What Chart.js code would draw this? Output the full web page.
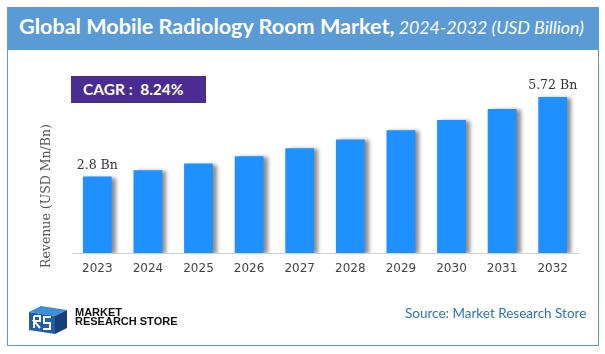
<!DOCTYPE html>
<html>
<head>
<meta charset="utf-8">
<script src="https://cdn.jsdelivr.net/npm/chart.js@4.4.1/dist/chart.umd.min.js"></script>
<style>
  html, body { margin: 0; padding: 0; background: #fff; }
  #wrap { position: relative; width: 605px; height: 354px; overflow: hidden; background: #fff; }
  #frame { position: absolute; left: 7px; top: 7px; width: 590px; height: 337px; border: 1.5px solid #5B9BD5; box-sizing: content-box; }
  #header { position: absolute; left: 7px; top: 7px; width: 592px; height: 43px; background: #5B9BD5; }
  #title { position: absolute; left: 19px; top: 13px; white-space: nowrap; color: #fff; font-family: Lato, "Open Sans", sans-serif; }
  #title .b { font-weight: bold; font-size: 21.6px; }
  #title .i { font-style: italic; font-size: 17.8px; }
  #cagr { position: absolute; left: 71px; top: 76px; width: 135px; height: 27px; background: #4B2C92; color: #fff;
    font-family: Lato, "Open Sans", sans-serif; font-weight: bold; font-size: 15.5px; line-height: 27px; padding-left: 12px; box-sizing: border-box; white-space: nowrap; }
  #ytitle { position: absolute; left: 45px; top: 196px; transform: translate(-50%, -50%) rotate(-90deg); white-space: nowrap;
    font-family: "DejaVu Serif", serif; font-size: 12.5px; color: #555; }
  #src { position: absolute; left: 405px; top: 305px; font-family: Lato, "Open Sans", sans-serif; font-size: 13.5px; color: #2E74B5; white-space: nowrap; }
  #logotext { position: absolute; left: 75px; top: 308px; font-family: "Liberation Sans Narrow", "Liberation Sans", Arial, sans-serif; font-weight: bold; font-size: 11px; line-height: 9px; color: #111; white-space: nowrap; }
  canvas#c { position: absolute; left: 0; top: 0; }
</style>
</head>
<body>
<div id="wrap">
  <div id="frame"></div>
  <div id="header"></div>
  <div id="title"><span class="b">Global Mobile Radiology Room Market,</span> <span class="i">2024-2032 (USD Billion)</span></div>
  <svg style="position:absolute;left:0;top:0" width="605" height="70">
    <defs><linearGradient id="dg" x1="0" x2="1" y1="0" y2="0"><stop offset="0" stop-color="#F9C9A4"/><stop offset="1" stop-color="#E8823A"/></linearGradient></defs>
    <line x1="37" y1="56.5" x2="574" y2="56.5" stroke="url(#dg)" stroke-width="1.5" stroke-dasharray="5,2"/>
  </svg>
  <div id="cagr">CAGR :&nbsp; 8.24%</div>
  <canvas id="c" width="605" height="354"></canvas>
  <div id="ytitle">Revenue (USD Mn/Bn)</div>
  <svg style="position:absolute;left:27px;top:304px" width="44" height="32" viewBox="0 0 44 32">
    <polygon points="2,8 14,2 40,6 28,12" fill="#3C8FD8"/>
    <polygon points="2,8 28,12 28,30 2,26" fill="#1F5FA8"/>
    <polygon points="28,12 40,6 40,24 28,30" fill="#173F78"/>
    <path d="M7,12 L7,24 M7,12 L13,12 L13,17 L7,17 L13,24" stroke="#fff" stroke-width="2" fill="none"/>
    <path d="M24,13 L17,13 L17,19 L23,19 L23,25 L16,25" stroke="#fff" stroke-width="2" fill="none"/>
  </svg>
  <div id="logotext">MARKET<br>RESEARCH STORE</div>
  <div id="src">Source: Market Research Store</div>
</div>
<script>
const years = ['2023','2024','2025','2026','2027','2028','2029','2030','2031','2032'];
const revenue = [2.8, 3.03, 3.28, 3.55, 3.84, 4.16, 4.50, 4.87, 5.28, 5.72];
const valueLabels = ['2.8 Bn','','','','','','','','','5.72 Bn'];

const shadowPlugin = {
  id: 'barShadow',
  beforeDatasetsDraw(chart) {
    const ctx = chart.ctx;
    ctx.save();
    ctx.shadowColor = 'rgba(0,0,0,0.45)';
    ctx.shadowOffsetX = 4;
    ctx.shadowOffsetY = 1;
    ctx.shadowBlur = 4;
  },
  afterDatasetsDraw(chart) {
    const ctx = chart.ctx;
    ctx.restore();
    const meta = chart.getDatasetMeta(0);
    ctx.save();
    ctx.font = '12.5px "DejaVu Serif", serif';
    ctx.fillStyle = '#333';
    ctx.textAlign = 'center';
    ctx.textBaseline = 'middle';
    meta.data.forEach((bar, i) => {
      if (valueLabels[i]) ctx.fillText(valueLabels[i], bar.x, bar.y - 11);
    });
    ctx.restore();
  }
};

new Chart(document.getElementById('c'), {
  type: 'bar',
  data: {
    labels: years,
    datasets: [{
      data: revenue,
      backgroundColor: '#1E90FF',
      borderWidth: 0,
      categoryPercentage: 1,
      barPercentage: 0.57
    }]
  },
  options: {
    responsive: false,
    animation: false,
    devicePixelRatio: 1,
    layout: { padding: { left: 72, right: 27, top: 62, bottom: 68.6 } },
    plugins: { legend: { display: false }, tooltip: { enabled: false }, title: { display: false } },
    scales: {
      x: {
        grid: { display: false, drawTicks: false },
        border: { display: true, color: '#D0D0D0', width: 1 },
        ticks: { color: '#444', font: { family: 'DejaVu Sans', size: 12 }, padding: 9 }
      },
      y: {
        display: false,
        min: 0,
        max: 7
      }
    }
  },
  plugins: [shadowPlugin]
});
</script>
</body>
</html>
